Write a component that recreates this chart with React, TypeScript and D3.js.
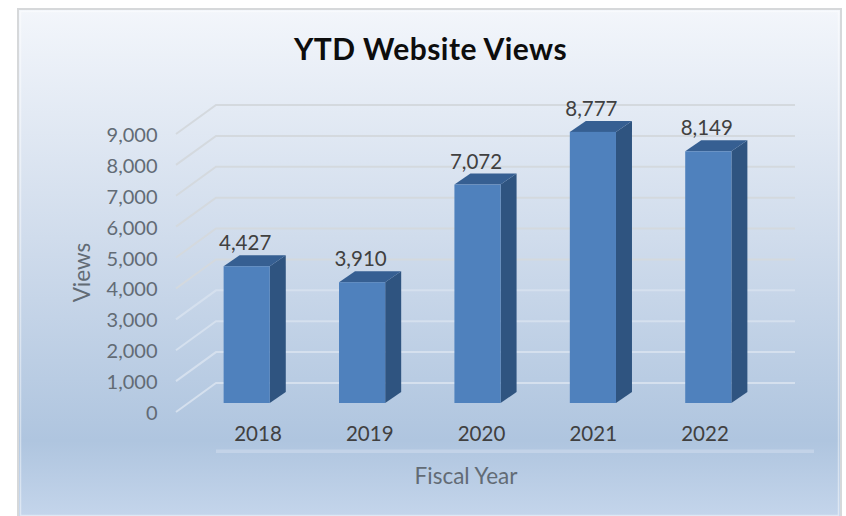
import React from "react";
import * as d3 from "d3";

const years = ["2018", "2019", "2020", "2021", "2022"];
const views = [4427, 3910, 7072, 8777, 8149];
const yTicks = [0, 1000, 2000, 3000, 4000, 5000, 6000, 7000, 8000, 9000];

const W = 846, H = 516;
const DX = 16, DY = -11;
const fmt = d3.format(",");
const FONT = "Lato, 'Open Sans', sans-serif";

const y = d3.scaleLinear().domain([0, 9000]).range([403, 125]);
const x = d3.scaleBand<string>().domain(years).range([189, 766]).paddingInner(0.6).paddingOuter(0.3);
const labelX = d3.scalePoint<string>().domain(years).range([258, 705]);

export default function App() {
  return (
    <svg width={W} height={H} viewBox={`0 0 ${W} ${H}`} style={{ position: "absolute", left: 0, top: 0, fontFamily: FONT }}>
      <defs>
        <linearGradient id="bg" x1="0" y1="0" x2="0" y2="1">
          <stop offset="0" stopColor="#f3f6fb" />
          <stop offset="0.45" stopColor="#d0dcec" />
          <stop offset="0.85" stopColor="#afc5df" />
          <stop offset="1" stopColor="#c4d5eb" />
        </linearGradient>
      </defs>
      <rect width={W} height={H} fill="#fff" />
      <rect x={18} y={9} width={823} height={508} fill="url(#bg)" stroke="#d6d8da" strokeWidth={2} />
      <rect x={20.5} y={11.5} width={818} height={504} fill="none" stroke="#ffffff" strokeOpacity={0.45} strokeWidth={1.5} />

      <text x={430.5} y={60} textAnchor="middle" fontSize={30} fontWeight={700} letterSpacing={0.45} fill="#0d0d0d">YTD Website Views</text>

      {yTicks.map((t) => (
        <path key={t} d={`M176,${y(t) + 9}L216,${y(t) - 20}H795`} fill="none" stroke={t < 4000 ? "#d5e0ee" : "#d4d9de"} strokeWidth={2} />
      ))}
      {yTicks.map((t) => (
        <text key={t} x={157.5} y={y(t) + 17} textAnchor="end" fontSize={20} fill="#626b75">{fmt(t)}</text>
      ))}

      {views.map((v, i) => {
        const x0 = x(years[i])!;
        const w = x.bandwidth();
        const x1 = x0 + w;
        const top = y(v);
        const base = y(0);
        return (
          <g key={years[i]}>
            <path d={`M${x1},${top}L${x1 + DX},${top + DY}V${base + DY}L${x1},${base}Z`} fill="#2f5480" />
            <path d={`M${x0},${top}L${x0 + DX},${top + DY}H${x1 + DX}L${x1},${top}Z`} fill="#365f92" />
            <rect x={x0} y={top} width={w} height={base - top} fill="#4f81bd" />
            <text x={x0 + w / 2} y={top - 16} dx={-1.5} textAnchor="middle" fontSize={20.5} fill="#404040">{fmt(v)}</text>
          </g>
        );
      })}

      <rect x={216} y={449.5} width={598} height={3.5} fill="#c3d3e8" />
      {years.map((c) => (
        <text key={c} x={labelX(c)!} y={441} textAnchor="middle" fontSize={20.5} fill="#404040">{c}</text>
      ))}
      <text x={466} y={484} textAnchor="middle" fontSize={22.5} fill="#626b75">Fiscal Year</text>
      <text transform="translate(90,272.5) rotate(-90)" textAnchor="middle" fontSize={22.5} fill="#626b75">Views</text>
    </svg>
  );
}
